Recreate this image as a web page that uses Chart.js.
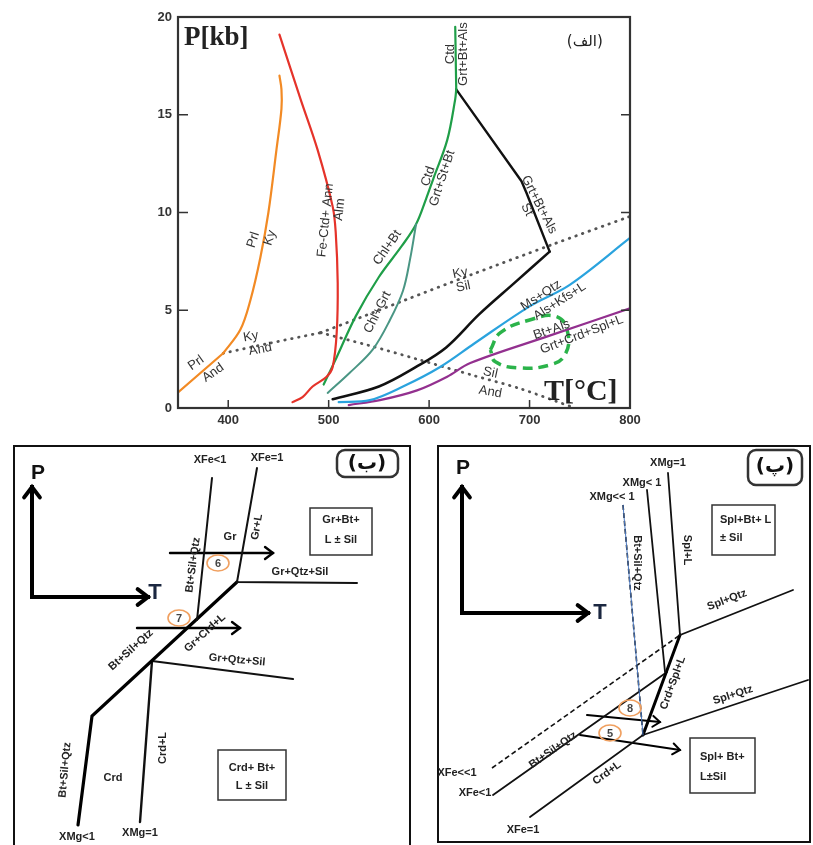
<!DOCTYPE html>
<html>
<head>
<meta charset="utf-8">
<script src="https://cdn.jsdelivr.net/npm/chart.js@4.4.0/dist/chart.umd.min.js"></script>
<style>
  body { margin: 0; background: #fff; width: 813px; height: 845px; overflow: hidden; position: relative; }
  canvas { position: absolute; }
  .panel { position: absolute; border: 2px solid #111; box-sizing: border-box; }
</style>
</head>
<body>
<div class="panel" style="left:13px;top:445px;width:398px;height:420px"></div>
<div class="panel" style="left:437px;top:445px;width:374px;height:398px"></div>
<canvas id="pt" style="left:140px;top:0" width="510" height="430"></canvas>
<canvas id="pb" style="left:0;top:440px" width="420" height="405"></canvas>
<canvas id="pp" style="left:430px;top:440px" width="383" height="405"></canvas>
<script>
// ---- top diagram (T in °C, P in kbar) ----
const tTicks = [400, 500, 600, 700, 800];
const pTicks = [0, 5, 10, 15, 20];

const prlAnd = [[350, 0.8], [395, 2.8]];
const prlKy = [[395, 2.8], [412, 4.0], [422, 5.5], [432, 7.7], [440, 10.0], [448, 13.2], [453, 15.3], [453, 16.3], [451, 17.0]];
const feCtdAnn = [[451, 19.1], [472, 15.8], [489, 13.2], [504, 10.3], [507, 9.0], [509, 6.4], [508, 3.85], [504, 2.1], [498, 1.6], [484, 1.1], [474, 0.56], [464, 0.3]];
const chlBt = [[495, 1.2], [508, 2.6], [527, 4.7], [550, 6.7], [573, 8.3], [587, 9.4], [597, 10.7], [604, 11.7], [618, 13.7], [626, 15.8], [627, 16.3]];
const ctdTop = [[627, 16.3], [626, 19.5]];
const chlGrt = [[499, 0.77], [521, 1.8], [544, 3.0], [561, 4.5], [574, 6.0], [581, 7.6], [587, 9.4]];
const grtBtAlsHi = [[627, 16.3], [692, 11.6], [697, 11.0], [720, 8.0]];
const grtBtAlsLo = [[720, 8.0], [685, 6.4], [650, 4.8], [617, 3.1], [587, 2.1], [550, 1.1], [504, 0.45]];
const msQtz = [[510, 0.3], [541, 0.4], [574, 1.1], [611, 2.1], [645, 3.3], [700, 5.2], [740, 6.3], [800, 8.7]];
const btAls = [[520, 0.15], [551, 0.4], [588, 0.9], [618, 1.6], [641, 2.3], [720, 3.7], [800, 5.1]];
const kyAnd = [[395, 2.8], [440, 3.3], [492, 3.85]];
const kySil = [[492, 3.85], [530, 4.6], [575, 5.5], [641, 6.8], [722, 8.35], [800, 9.8]];
const silAnd = [[492, 3.85], [540, 3.2], [588, 2.5], [645, 1.65], [690, 1.0], [745, 0]];
const meltField = [[661, 2.97], [671, 3.85], [700, 4.5], [727, 4.67], [738, 3.85], [735, 2.7], [720, 2.2], [690, 2.05], [666, 2.36], [661, 2.97]];

// ---- schematic panels (T and P in arbitrary units) ----
const bAxisP = [[32, 248], [32, 358]];
const bAxisT = [[32, 248], [148, 248]];
const bXFeLess = [[212, 367], [197, 225]];
const bXFeOne = [[257, 377], [237, 263], [357, 262]];
const bReaction = [[78, 20], [92, 129], [237, 263]];
const bCrdL = [[152, 184], [140, 23]];
const bGrQtzSil = [[152, 184], [293, 166]];
const bPath6 = [[170, 292], [273, 292]];
const bPath7 = [[137, 217], [240, 217]];

const pAxisP = [[462, 232], [462, 358]];
const pAxisT = [[462, 232], [588, 232]];
const pXMgLL = [[623, 340], [643, 110]];
const pXMgL = [[647, 355], [665, 173]];
const pXMgOne = [[668, 372], [680, 210], [793, 255]];
const pCrdSplL = [[680, 210], [643, 110]];
const pXFeLL = [[492, 77], [680, 210]];
const pXFeL = [[493, 50], [667, 173]];
const pXFeOne = [[530, 28], [643, 110], [808, 165]];
const pPath8 = [[587, 130], [660, 123]];
const pPath5 = [[580, 110], [680, 95]];

const SANS = '"Liberation Sans", Arial, sans-serif';
const SERIF = '"Liberation Serif", "Times New Roman", serif';

function line(arr, color, width, opt = {}) {
  return Object.assign({
    data: arr.map(([x, y]) => ({ x, y })),
    borderColor: color, borderWidth: width, pointRadius: 0,
    showLine: true, fill: false, tension: 0,
    borderCapStyle: 'round', borderJoinStyle: 'round'
  }, opt);
}

const arrowPlugin = {
  id: 'arrows',
  afterDatasetsDraw(chart) {
    const ctx = chart.ctx;
    chart.data.datasets.forEach((ds, i) => {
      if (!ds.arrow) return;
      const pts = chart.getDatasetMeta(i).data;
      const a = pts[pts.length - 2], b = pts[pts.length - 1];
      const ang = Math.atan2(b.y - a.y, b.x - a.x), L = ds.arrow, w = 0.65;
      ctx.save();
      ctx.strokeStyle = ds.borderColor;
      ctx.lineWidth = ds.borderWidth;
      ctx.lineCap = 'round';
      ctx.beginPath();
      ctx.moveTo(b.x - L * Math.cos(ang - w), b.y - L * Math.sin(ang - w));
      ctx.lineTo(b.x, b.y);
      ctx.lineTo(b.x - L * Math.cos(ang + w), b.y - L * Math.sin(ang + w));
      ctx.stroke();
      ctx.restore();
    });
  }
};

function annot(items, extra = {}) {
  return {
    id: 'annot',
    afterDatasetsDraw(chart) {
      const { ctx, scales: { x, y } } = chart;
      ctx.save();
      (extra.boxes || []).forEach(b => {
        const x0 = x.getPixelForValue(b.x0), x1 = x.getPixelForValue(b.x1);
        const y0 = y.getPixelForValue(b.y1), y1 = y.getPixelForValue(b.y0);
        ctx.beginPath();
        ctx.lineWidth = b.lw || 1.5;
        ctx.strokeStyle = '#333';
        if (b.r) ctx.roundRect(x0, y0, x1 - x0, y1 - y0, b.r); else ctx.rect(x0, y0, x1 - x0, y1 - y0);
        ctx.stroke();
      });
      (extra.rings || []).forEach(r => {
        const px = x.getPixelForValue(r.x), py = y.getPixelForValue(r.y);
        ctx.beginPath();
        ctx.ellipse(px, py, 11, 8, 0, 0, Math.PI * 2);
        ctx.lineWidth = 1.6;
        ctx.strokeStyle = '#f0a060';
        ctx.stroke();
        ctx.font = 'bold 11px ' + SANS;
        ctx.fillStyle = '#444';
        ctx.textAlign = 'center';
        ctx.textBaseline = 'middle';
        ctx.fillText(r.s, px, py + 0.5);
      });
      items.forEach(it => {
        ctx.save();
        ctx.translate(x.getPixelForValue(it.x), y.getPixelForValue(it.y));
        ctx.rotate((it.r || 0) * Math.PI / 180);
        ctx.font = it.f || extra.font;
        ctx.fillStyle = it.c || extra.color || '#222';
        ctx.textAlign = it.a || 'center';
        ctx.textBaseline = 'middle';
        ctx.fillText(it.s, 0, 0);
        ctx.restore();
      });
      ctx.restore();
    }
  };
}

const framePlugin = {
  id: 'frame',
  afterDraw(chart) {
    const { ctx, chartArea: a, scales: { x, y } } = chart;
    ctx.save();
    ctx.strokeStyle = '#333';
    ctx.lineWidth = 2.2;
    ctx.strokeRect(a.left, a.top, a.right - a.left, a.bottom - a.top);
    ctx.lineWidth = 1.5;
    ctx.beginPath();
    pTicks.forEach(v => {
      const py = y.getPixelForValue(v);
      ctx.moveTo(a.left, py); ctx.lineTo(a.left + 10, py);
      ctx.moveTo(a.right, py); ctx.lineTo(a.right - 9, py);
    });
    tTicks.forEach(v => {
      const px = x.getPixelForValue(v);
      ctx.moveTo(px, a.bottom); ctx.lineTo(px, a.bottom - 8);
    });
    ctx.stroke();
    ctx.restore();
  }
};

const dotted = { borderDash: [0.5, 6.5], borderCapStyle: 'round' };
const topLabels = [
  { s: 'Prl', x: 425, y: 8.6, r: -72 },
  { s: 'Ky', x: 441.5, y: 8.7, r: -72 },
  { s: 'Prl', x: 368, y: 2.3, r: -35 },
  { s: 'And', x: 385, y: 1.8, r: -35 },
  { s: 'Ky', x: 422.5, y: 3.65, r: -10 },
  { s: 'And', x: 432, y: 3.0, r: -10 },
  { s: 'Fe-Ctd+ Ann', x: 497, y: 9.6, r: -84 },
  { s: 'Alm', x: 511, y: 10.15, r: -84 },
  { s: 'Chl+Bt', x: 558.5, y: 8.2, r: -55 },
  { s: 'Chl+Grt', x: 548.6, y: 4.9, r: -63 },
  { s: 'Ctd', x: 599, y: 11.85, r: -72 },
  { s: 'Grt+St+Bt', x: 613, y: 11.75, r: -72 },
  { s: 'Ctd', x: 621, y: 18.1, r: -90 },
  { s: 'Grt+Bt+Als', x: 634, y: 18.1, r: -90 },
  { s: 'Grt+Bt+Als', x: 709.5, y: 10.4, r: 63 },
  { s: 'St', x: 697.5, y: 10.15, r: 63 },
  { s: 'Ky', x: 631, y: 6.9, r: -12 },
  { s: 'Sil', x: 634, y: 6.2, r: -12 },
  { s: 'Ms+Qtz', x: 711.5, y: 5.75, r: -33 },
  { s: 'Als+Kfs+L', x: 730, y: 5.45, r: -33 },
  { s: 'Bt+Als', x: 722, y: 4.0, r: -19 },
  { s: 'Grt+Crd+Spl+L', x: 752, y: 3.75, r: -21 },
  { s: 'Sil', x: 661, y: 1.8, r: 12 },
  { s: 'And', x: 661, y: 0.82, r: 10 },
  { s: 'P[kb]', x: 356, y: 18.9, a: 'left', f: 'bold 27px ' + SERIF, c: '#222' },
  { s: '(الف)', x: 755, y: 18.7, f: '15px "DejaVu Sans", sans-serif', c: '#222' },
  { s: 'T[°C]', x: 751, y: 0.8, f: 'bold 30px ' + SERIF, c: '#222' }
];

new Chart(document.getElementById('pt'), {
  type: 'scatter',
  data: {
    datasets: [
      line(prlAnd, '#f28a24', 2.2),
      line(prlKy, '#f28a24', 2.2, { tension: 0.35 }),
      line(feCtdAnn, '#e5332a', 2.2, { tension: 0.35 }),
      line(chlGrt, '#4a9684', 2, { tension: 0.35 }),
      line(chlBt, '#1f9e48', 2.2, { tension: 0.35 }),
      line(ctdTop, '#1f9e48', 2.2),
      line(grtBtAlsHi, '#111', 2.4),
      line(grtBtAlsLo, '#111', 2.6, { tension: 0.35 }),
      line(msQtz, '#2aa3de', 2.2, { tension: 0.35 }),
      line(btAls, '#93308f', 2.2, { tension: 0.35 }),
      line(kyAnd, '#555', 2.8, Object.assign({ tension: 0.3 }, dotted)),
      line(kySil, '#555', 2.8, Object.assign({ tension: 0.3 }, dotted)),
      line(silAnd, '#555', 2.8, Object.assign({ tension: 0.3 }, dotted)),
      line(meltField, '#2bb34a', 3.5, { tension: 0.45, borderDash: [10, 6], borderCapStyle: 'butt' })
    ]
  },
  options: {
    responsive: false, animation: false, events: [],
    layout: { padding: { top: 17, right: 20, left: 0, bottom: 0 } },
    plugins: { legend: { display: false }, tooltip: { enabled: false } },
    scales: {
      x: {
        type: 'linear', min: 350, max: 800,
        afterBuildTicks: s => { s.ticks = tTicks.map(v => ({ value: v })); },
        afterFit: s => { s.height = 22; },
        grid: { display: false, drawTicks: false }, border: { display: false },
        ticks: { font: { family: SANS, weight: 'bold', size: 13 }, color: '#333', padding: 5, maxRotation: 0 }
      },
      y: {
        type: 'linear', min: 0, max: 20,
        afterBuildTicks: s => { s.ticks = pTicks.map(v => ({ value: v })); },
        afterFit: s => { s.width = 38; },
        grid: { display: false, drawTicks: false }, border: { display: false },
        ticks: { font: { family: SANS, weight: 'bold', size: 13 }, color: '#333', padding: 6 }
      }
    }
  },
  plugins: [framePlugin, annot(topLabels, { font: '13px ' + SANS, color: '#333' })]
});

function schematic(id, xmin, xmax, datasets, items, extra) {
  new Chart(document.getElementById(id), {
    type: 'scatter',
    data: { datasets },
    options: {
      responsive: false, animation: false, events: [],
      layout: { padding: 0 },
      plugins: { legend: { display: false }, tooltip: { enabled: false } },
      scales: {
        x: { type: 'linear', display: false, min: xmin, max: xmax },
        y: { type: 'linear', display: false, min: 0, max: 405 }
      }
    },
    plugins: [arrowPlugin, annot(items, extra)]
  });
}

const LF = 'bold 11px ' + SANS;
schematic('pb', 0, 420, [
  line(bAxisP, '#000', 4, { arrow: 13, borderCapStyle: 'square' }),
  line(bAxisT, '#000', 4, { arrow: 13, borderCapStyle: 'square' }),
  line(bXFeLess, '#111', 2),
  line(bXFeOne, '#111', 2, { borderJoinStyle: 'miter' }),
  line(bReaction, '#000', 3.2, { borderJoinStyle: 'miter' }),
  line(bCrdL, '#111', 2.4),
  line(bGrQtzSil, '#111', 2),
  line(bPath6, '#000', 2.4, { arrow: 10 }),
  line(bPath7, '#000', 2.4, { arrow: 10 })
], [
  { s: 'P', x: 38, y: 372, f: 'bold 21px ' + SANS, c: '#111' },
  { s: 'T', x: 155, y: 252, f: 'bold 22px ' + SANS, c: '#1b2740' },
  { s: 'XFe<1', x: 210, y: 385 },
  { s: 'XFe=1', x: 267, y: 387 },
  { s: 'Gr', x: 230, y: 308 },
  { s: 'Gr+L', x: 257, y: 318, r: -80 },
  { s: 'Bt+Sil+Qtz', x: 193, y: 280, r: -82 },
  { s: 'Gr+Qtz+Sil', x: 300, y: 273 },
  { s: 'Gr+Crd+L', x: 205, y: 212, r: -42 },
  { s: 'Bt+Sil+Qtz', x: 131, y: 195, r: -42 },
  { s: 'Gr+Qtz+Sil', x: 237, y: 185, r: 5 },
  { s: 'Bt+Sil+Qtz', x: 65, y: 75, r: -85 },
  { s: 'Crd', x: 113, y: 67 },
  { s: 'Crd+L', x: 163, y: 97, r: -90 },
  { s: 'XMg<1', x: 77, y: 8 },
  { s: 'XMg=1', x: 140, y: 12 },
  { s: 'Gr+Bt+', x: 341, y: 325 },
  { s: 'L ± Sil', x: 341, y: 305 },
  { s: 'Crd+ Bt+', x: 252, y: 77 },
  { s: 'L ± Sil', x: 252, y: 59 },
  { s: '(ب)', x: 367, y: 381, f: 'bold 20px "DejaVu Sans", sans-serif', c: '#111' }
], {
  font: LF, color: '#222',
  boxes: [
    { x0: 310, x1: 372, y0: 290, y1: 337 },
    { x0: 218, x1: 286, y0: 45, y1: 95 },
    { x0: 337, x1: 398, y0: 368, y1: 395, r: 8, lw: 2.5 }
  ],
  rings: [{ s: '6', x: 218, y: 282 }, { s: '7', x: 179, y: 227 }]
});

schematic('pp', 430, 813, [
  line(pAxisP, '#000', 4, { arrow: 13, borderCapStyle: 'square' }),
  line(pAxisT, '#000', 4, { arrow: 13, borderCapStyle: 'square' }),
  line(pXMgLL, '#4a78c0', 1),
  line(pXMgLL, '#111', 1.6, { borderDash: [5, 3], borderCapStyle: 'butt' }),
  line(pXMgL, '#111', 1.8),
  line(pXMgOne, '#111', 1.8, { borderJoinStyle: 'miter' }),
  line(pCrdSplL, '#000', 3),
  line(pXFeLL, '#111', 1.6, { borderDash: [5, 3], borderCapStyle: 'butt' }),
  line(pXFeL, '#111', 1.8),
  line(pXFeOne, '#111', 1.8, { borderJoinStyle: 'miter' }),
  line(pPath8, '#000', 2, { arrow: 9 }),
  line(pPath5, '#000', 2, { arrow: 9 })
], [
  { s: 'P', x: 463, y: 377, f: 'bold 21px ' + SANS, c: '#111' },
  { s: 'T', x: 600, y: 232, f: 'bold 22px ' + SANS, c: '#1b2740' },
  { s: 'XMg=1', x: 668, y: 382 },
  { s: 'XMg< 1', x: 642, y: 362 },
  { s: 'XMg<< 1', x: 612, y: 348 },
  { s: 'Bt+Sil+Qtz', x: 637, y: 282, r: 90 },
  { s: 'Spl+L', x: 687, y: 295, r: 90 },
  { s: 'Spl+Qtz', x: 727, y: 245, r: -21 },
  { s: 'Spl+Qtz', x: 733, y: 150, r: -18 },
  { s: 'Crd+Spl+L', x: 673, y: 162, r: -70 },
  { s: 'Bt+Sil+Qtz', x: 553, y: 95, r: -35 },
  { s: 'Crd+L', x: 607, y: 72, r: -36 },
  { s: 'XFe<<1', x: 457, y: 72 },
  { s: 'XFe<1', x: 475, y: 52 },
  { s: 'XFe=1', x: 523, y: 15 },
  { s: 'Spl+ Bt+', x: 700, y: 88, a: 'left' },
  { s: 'L±Sil', x: 700, y: 68, a: 'left' },
  { s: 'Spl+Bt+ L', x: 720, y: 325, a: 'left' },
  { s: '± Sil', x: 720, y: 307, a: 'left' },
  { s: '(پ)', x: 775, y: 378, f: 'bold 20px "DejaVu Sans", sans-serif', c: '#111' }
], {
  font: LF, color: '#222',
  boxes: [
    { x0: 690, x1: 755, y0: 52, y1: 107 },
    { x0: 712, x1: 775, y0: 290, y1: 340 },
    { x0: 748, x1: 802, y0: 360, y1: 395, r: 8, lw: 2.5 }
  ],
  rings: [{ s: '8', x: 630, y: 137 }, { s: '5', x: 610, y: 112 }]
});
</script>
</body>
</html>
